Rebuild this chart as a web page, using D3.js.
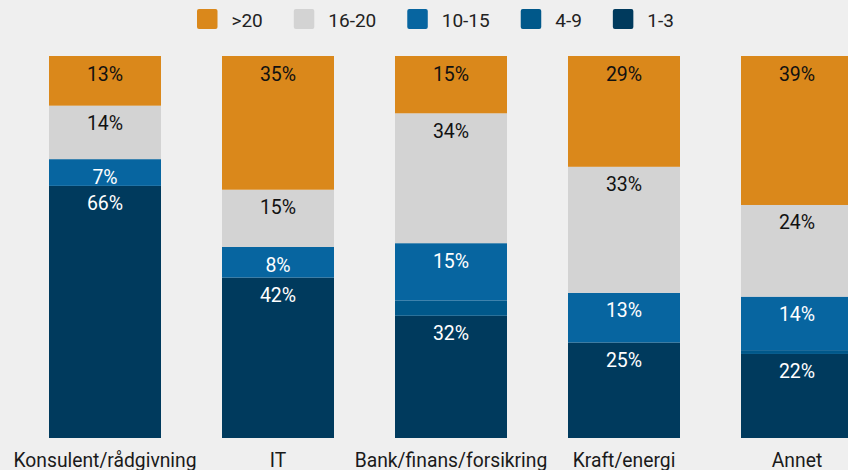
<!DOCTYPE html>
<html><head><meta charset="utf-8">
<script src="https://cdn.jsdelivr.net/npm/d3@7"></script>
<style>
html,body{margin:0;padding:0;background:#efefef;overflow:hidden}
svg{display:block;font-family:Roboto,"Noto Sans",sans-serif}
</style></head>
<body><svg id="c" width="848" height="470"></svg>
<script>
const categories = ["Konsulent/rådgivning","IT","Bank/finans/forsikring","Kraft/energi","Annet"];
const seriesNames = ["1-3","4-9","10-15","16-20",">20"];
const s1_3   = [66, 42, 32, 25, 22];
const s4_9   = [0, 0, 4, 0, 1];
const s10_15 = [7, 8, 15, 13, 14];
const s16_20 = [14, 15, 34, 33, 24];
const sOver20= [13, 35, 15, 29, 39];
const legendOrder = [">20","16-20","10-15","4-9","1-3"];
const colors = {"1-3":"#003a5d","4-9":"#00588a","10-15":"#0765a0","16-20":"#d3d3d3",">20":"#da881b"};
const textColors = {"1-3":"#ffffff","4-9":"#ffffff","10-15":"#ffffff","16-20":"#111111",">20":"#111111"};

const seriesVals = {"1-3":s1_3,"4-9":s4_9,"10-15":s10_15,"16-20":s16_20,">20":sOver20};
const table = categories.map((c,i)=>{const o={cat:c}; seriesNames.forEach(s=>o[s]=seriesVals[s][i]); return o;});

const svg = d3.select("#c");
const x = d3.scaleBand().domain(categories).range([18.5, 883.5]).paddingInner(0.3526).paddingOuter(0.1763);
const y = d3.scaleLinear().domain([0,100]).range([438, 56]);

const stack = d3.stack().keys(seriesNames);
const layers = stack(table);

const g = svg.append("g");
layers.forEach(layer=>{
  const key = layer.key;
  g.selectAll(null).data(layer).join("rect")
    .attr("x", d=>x(d.data.cat))
    .attr("width", x.bandwidth())
    .attr("y", d=>y(d[1]))
    .attr("height", d=>Math.max(0, y(d[0])-y(d[1])))
    .attr("fill", colors[key]);
  g.selectAll(null).data(layer.filter(d=>d[1]-d[0]>=5)).join("text")
    .attr("x", d=>x(d.data.cat)+x.bandwidth()/2)
    .attr("y", d=>y(d[1])+24.5)
    .attr("text-anchor","middle")
    .attr("font-size",19.5)
    .attr("fill", textColors[key])
    .text(d=>(d[1]-d[0])+"%");
});

// category labels
svg.append("g").selectAll("text").data(categories).join("text")
  .attr("x", d=>x(d)+x.bandwidth()/2)
  .attr("y", 466.5)
  .attr("text-anchor","middle")
  .attr("font-size",19.3)
  .attr("fill","#1a1a1a")
  .text(d=>d);

// legend
const lg = svg.append("g");
let lx = 197;
legendOrder.forEach(k=>{
  lg.append("rect").attr("x",lx).attr("y",9).attr("width",20.5).attr("height",20).attr("rx",2).attr("fill",colors[k]);
  const t = lg.append("text").attr("x",lx+34.5).attr("y",26.5).attr("font-size",19).attr("fill","#222").text(k);
  lx += 34.5 + t.node().getComputedTextLength() + 31;
});
</script></body></html>
